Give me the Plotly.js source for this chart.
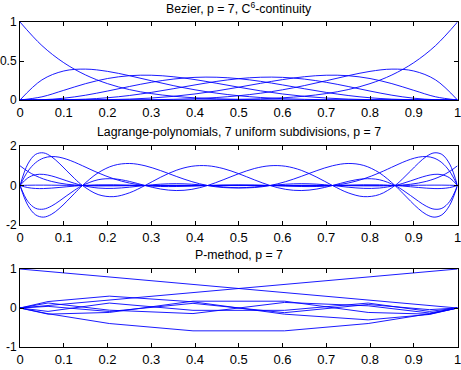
<!DOCTYPE html>
<html>
<head>
<meta charset="utf-8">
<script src="https://cdn.plot.ly/plotly-3.0.1.min.js"></script>
<style>
  html, body { margin: 0; padding: 0; background: #fff; }
  #chart { width: 461px; height: 370px; }
</style>
</head>
<body>
<div id="chart"></div>
<script>
// ---- Bernstein (Bezier) basis, degree 7 ----
const bezT = [0, 0.05, 0.1, 0.15, 0.2, 0.25, 0.3, 0.35, 0.4, 0.45, 0.5,
              0.55, 0.6, 0.65, 0.7, 0.75, 0.8, 0.85, 0.9, 0.95, 1];
const bez0 = [1, 0.6983, 0.4783, 0.3206, 0.2097, 0.1335, 0.0824, 0.0490, 0.0280, 0.0152, 0.0078,
              0.0037, 0.0016, 0.0006, 0.0002, 0.0001, 0, 0, 0, 0, 0];
const bez1 = [0, 0.2573, 0.3720, 0.3960, 0.3670, 0.3115, 0.2471, 0.1848, 0.1306, 0.0872, 0.0547,
              0.0320, 0.0172, 0.0084, 0.0036, 0.0013, 0.0004, 0.0001, 0, 0, 0];
const bez2 = [0, 0.0406, 0.1240, 0.2097, 0.2753, 0.3115, 0.3177, 0.2985, 0.2613, 0.2140, 0.1641,
              0.1172, 0.0774, 0.0466, 0.0250, 0.0115, 0.0043, 0.0012, 0.0002, 0, 0];
const bez3 = [0, 0.0036, 0.0230, 0.0617, 0.1147, 0.1730, 0.2269, 0.2679, 0.2903, 0.2918, 0.2734,
              0.2388, 0.1935, 0.1442, 0.0972, 0.0577, 0.0287, 0.0109, 0.0026, 0.0002, 0];
const bez4 = [0, 0.0002, 0.0026, 0.0109, 0.0287, 0.0577, 0.0972, 0.1442, 0.1935, 0.2388, 0.2734,
              0.2918, 0.2903, 0.2679, 0.2269, 0.1730, 0.1147, 0.0617, 0.0230, 0.0036, 0];
const bez5 = [0, 0, 0.0002, 0.0012, 0.0043, 0.0115, 0.0250, 0.0466, 0.0774, 0.1172, 0.1641,
              0.2140, 0.2613, 0.2985, 0.3177, 0.3115, 0.2753, 0.2097, 0.1240, 0.0406, 0];
const bez6 = [0, 0, 0, 0.0001, 0.0004, 0.0013, 0.0036, 0.0084, 0.0172, 0.0320, 0.0547,
              0.0872, 0.1306, 0.1848, 0.2471, 0.3115, 0.3670, 0.3960, 0.3720, 0.2573, 0];
const bez7 = [0, 0, 0, 0, 0, 0.0001, 0.0002, 0.0006, 0.0016, 0.0037, 0.0078,
              0.0152, 0.0280, 0.0490, 0.0824, 0.1335, 0.2097, 0.3206, 0.4783, 0.6983, 1];

// ---- Lagrange basis on 8 equally spaced nodes (0, 1/7, ..., 1) ----
const lagX = [0, 0.017857, 0.035714, 0.053571, 0.071429, 0.089286, 0.107143, 0.125, 0.142857,
              0.178571, 0.214286, 0.25, 0.285714, 0.321429, 0.357143, 0.392857, 0.428571,
              0.464286, 0.5, 0.535714, 0.571429, 0.607143, 0.642857, 0.678571, 0.714286,
              0.75, 0.785714, 0.821429, 0.857143, 0.875, 0.892857, 0.910714, 0.928571,
              0.946429, 0.964286, 0.982143, 1];
const lag0 = [1, 0.7141, 0.4951, 0.3305, 0.2095, 0.1229, 0.0632, 0.0240, 0, -0.0183, -0.0161, -0.0076, 0,
              0.0040, 0.0044, 0.0025, 0, -0.0019, -0.0024, -0.0016, 0, 0.0016, 0.0024, 0.0019, 0,
              -0.0025, -0.0044, -0.0040, 0, 0.0034, 0.0076, 0.0121, 0.0161, 0.0187, 0.0183, 0.0130, 0];
const lag1 = [0, 0.7141, 1.1552, 1.3881, 1.4663, 1.4343, 1.3278, 1.1756, 1, 0.6418, 0.3384, 0.1239, 0,
              -0.0502, -0.0513, -0.0278, 0, 0.0191, 0.0239, 0.0156, 0, -0.0150, -0.0220, -0.0167, 0,
              0.0219, 0.0376, 0.0338, 0, -0.0287, -0.0632, -0.1001, -0.1333, -0.1542, -0.1507, -0.1064, 0];
const lag2 = [0, -0.9997, -1.4853, -1.6016, -1.4663, -1.1735, -0.7967, -0.3919, 0, 0.6418, 1.0152, 1.1153, 1,
              0.7535, 0.4614, 0.1947, 0, -0.1031, -0.1196, -0.0736, 0, 0.0649, 0.0923, 0.0685, 0,
              -0.0858, -0.1450, -0.1284, 0, 0.1069, 0.2343, 0.3688, 0.4888, 0.5627, 0.5472, 0.3845, 0];
const lag3 = [0, 1.0866, 1.5753, 1.6525, 1.4663, 1.1323, 0.7377, 0.3458, 0, -0.4584, -0.5640, -0.3718, 0,
              0.4186, 0.7690, 0.9736, 1, 0.8592, 0.5982, 0.2864, 0, -0.1947, -0.2563, -0.1794, 0,
              0.2065, 0.3384, 0.2917, 0, -0.2351, -0.5107, -0.7968, -1.0474, -1.1966, -1.1552, -0.8062, 0];
const lag4 = [0, -0.8062, -1.1552, -1.1966, -1.0474, -0.7968, -0.5107, -0.2351, 0, 0.2917, 0.3384, 0.2065, 0,
              -0.1794, -0.2563, -0.1947, 0, 0.2864, 0.5982, 0.8592, 1, 0.9736, 0.7690, 0.4186, 0,
              -0.3718, -0.5640, -0.4584, 0, 0.3458, 0.7377, 1.1323, 1.4663, 1.6525, 1.5753, 1.0866, 0];
const lag5 = [0, 0.3845, 0.5472, 0.5627, 0.4888, 0.3688, 0.2343, 0.1069, 0, -0.1284, -0.1450, -0.0858, 0,
              0.0685, 0.0923, 0.0649, 0, -0.0736, -0.1196, -0.1031, 0, 0.1947, 0.4614, 0.7535, 1,
              1.1153, 1.0152, 0.6418, 0, -0.3919, -0.7967, -1.1735, -1.4663, -1.6016, -1.4853, -0.9997, 0];
const lag6 = [0, -0.1064, -0.1507, -0.1542, -0.1333, -0.1001, -0.0632, -0.0287, 0, 0.0338, 0.0376, 0.0219, 0,
              -0.0167, -0.0220, -0.0150, 0, 0.0156, 0.0239, 0.0191, 0, -0.0278, -0.0513, -0.0502, 0,
              0.1239, 0.3384, 0.6418, 1, 1.1756, 1.3278, 1.4343, 1.4663, 1.3881, 1.1552, 0.7141, 0];
const lag7 = [0, 0.0130, 0.0183, 0.0187, 0.0161, 0.0121, 0.0076, 0.0034, 0, -0.0040, -0.0044, -0.0025, 0,
              0.0019, 0.0024, 0.0016, 0, -0.0016, -0.0024, -0.0019, 0, 0.0025, 0.0044, 0.0040, 0,
              -0.0076, -0.0161, -0.0183, 0, 0.0240, 0.0632, 0.1229, 0.2095, 0.3305, 0.4951, 0.7141, 1];

// ---- hierarchical (p-method) shape functions, sampled at 8 Lobatto points ----
const pX  = [0, 0.06413, 0.20415, 0.39535, 0.60465, 0.79585, 0.93587, 1];
const pN1 = [1, 0.9359, 0.7958, 0.6047, 0.3953, 0.2042, 0.0641, 0];
const pN2 = [0, 0.0641, 0.2042, 0.3953, 0.6047, 0.7958, 0.9359, 1];
const pPhi2 = [0, -0.1470, -0.3980, -0.5856, -0.5856, -0.3980, -0.1470, 0];
const pPhi3 = [0, 0.1655, 0.3040, 0.1582, -0.1582, -0.3040, -0.1655, 0];
const pPhi4 = [0, -0.1572, -0.1141, 0.1746, 0.1746, -0.1141, -0.1572, 0];
const pPhi5 = [0, 0.1287, -0.0560, -0.1429, 0.1429, 0.0560, -0.1287, 0];
const pPhi6 = [0, -0.0876, 0.1264, -0.0599, -0.0599, 0.1264, -0.0876, 0];
const pPhi7 = [0, 0.0420, -0.0894, 0.1196, -0.1196, 0.0894, -0.0420, 0];

const xTickVals = [0, 0.1, 0.2, 0.3, 0.4, 0.5, 0.6, 0.7, 0.8, 0.9, 1];
const xTickText = ['0', '0.1', '0.2', '0.3', '0.4', '0.5', '0.6', '0.7', '0.8', '0.9', '1'];

const panelTitles = [
  'Bezier, p = 7, C<sup>6</sup>-continuity',
  'Lagrange-polynomials, 7 uniform subdivisions, p = 7',
  'P-method, p = 7'
];

const lineColor = 'rgb(0,0,255)';
const FONT = 'Liberation Sans, Arial, Helvetica, sans-serif';

function curves(x, ys, xa, ya, shape) {
  return ys.map(y => ({
    x: x, y: y, xaxis: xa, yaxis: ya, type: 'scatter', mode: 'lines',
    line: { color: lineColor, width: 0.9, shape: shape },
    hoverinfo: 'skip', showlegend: false
  }));
}

const data = [].concat(
  curves(bezT, [bez0, bez1, bez2, bez3, bez4, bez5, bez6, bez7], 'x', 'y', 'spline'),
  curves(lagX, [lag0, lag1, lag2, lag3, lag4, lag5, lag6, lag7], 'x2', 'y2', 'spline'),
  curves(pX, [pN1, pN2, pPhi2, pPhi3, pPhi4, pPhi5, pPhi6, pPhi7], 'x3', 'y3', 'linear')
);

const W = 461, H = 370;
const xDom = [20 / W, 457.5 / W];

function xAxis(anchor) {
  return {
    domain: xDom, range: [0, 1], anchor: anchor,
    tickvals: xTickVals, ticktext: xTickText,
    ticks: 'inside', ticklen: 4, tickwidth: 1, tickcolor: '#000',
    showline: true, linecolor: '#000', linewidth: 1, mirror: 'ticks',
    showgrid: false, zeroline: false, ticklabeloverflow: 'allow',
    tickfont: { family: FONT, size: 13, color: '#000' }
  };
}
function yAxis(anchor, top, bottom, range, vals) {
  return {
    domain: [1 - bottom / H, 1 - top / H], range: range, anchor: anchor,
    tickvals: vals, ticktext: vals.map(String),
    ticks: 'inside', ticklen: 4, tickwidth: 1, tickcolor: '#000',
    showline: true, linecolor: '#000', linewidth: 1, mirror: 'ticks',
    showgrid: false, zeroline: false, ticklabeloverflow: 'allow',
    tickfont: { family: FONT, size: 12, color: '#000' }
  };
}

const titleY = [8, 132, 255];
const layout = {
  width: W, height: H,
  margin: { l: 0, r: 0, t: 0, b: 0 },
  paper_bgcolor: '#fff', plot_bgcolor: '#fff',
  showlegend: false,
  xaxis: xAxis('y'),
  yaxis: yAxis('x', 22, 100, [0, 1], [0, 0.5, 1]),
  xaxis2: xAxis('y2'),
  yaxis2: yAxis('x2', 146, 225, [-2, 2], [-2, 0, 2]),
  xaxis3: xAxis('y3'),
  yaxis3: yAxis('x3', 269, 347, [-1, 1], [-1, 0, 1]),
  annotations: panelTitles.map((t, i) => ({
    text: t, xref: 'paper', yref: 'paper',
    x: (xDom[0] + xDom[1]) / 2, y: 1 - titleY[i] / H,
    xanchor: 'center', yanchor: 'middle', showarrow: false,
    font: { family: FONT, size: 12.3, color: '#000' }
  }))
};

Plotly.newPlot('chart', data, layout, { staticPlot: true, displayModeBar: false });
</script>
</body>
</html>
